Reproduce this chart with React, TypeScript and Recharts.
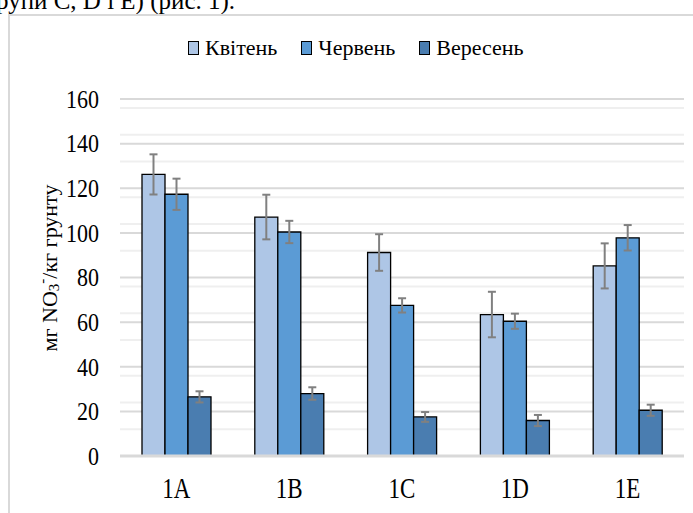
import { BarChart, Bar, XAxis, YAxis, CartesianGrid, Legend, ErrorBar } from 'recharts'

const categories = ['1A', '1B', '1C', '1D', '1E']
const aprilValues = [126.2, 107.1, 91.2, 63.4, 85.2]
const aprilErrors = [9, 10, 8.2, 10.2, 10.1]
const juneValues = [117.3, 100.4, 67.5, 60.4, 97.8]
const juneErrors = [7, 5, 3.2, 3.4, 5.7]
const septValues = [26.5, 28, 17.5, 15.9, 20.5]
const septErrors = [2.5, 2.8, 2.2, 2.5, 2.5]

const yTicks = [0, 20, 40, 60, 80, 100, 120, 140, 160]
// light minor lines every 4 units between the major ones
const minorTicks = Array.from({ length: 41 }, (_, i) => i * 4).filter((v) => v % 20 !== 0)

const series = [
  { key: 'apr', err: 'aprErr', name: 'Квітень', color: '#aec6e6' },
  { key: 'jun', err: 'junErr', name: 'Червень', color: '#5b9bd5' },
  { key: 'sep', err: 'sepErr', name: 'Вересень', color: '#4a7db0' },
]

const data = categories.map((name, i) => ({
  name,
  apr: aprilValues[i],
  aprErr: aprilErrors[i],
  jun: juneValues[i],
  junErr: juneErrors[i],
  sep: septValues[i],
  sepErr: septErrors[i],
}))

const serif = 'Liberation Serif, serif'
const textStyle = { fontFamily: serif }

const YTick = ({ x, y, payload }: any) => (
  <text
    transform={`translate(${x} ${y}) scale(1 1.15)`}
    textAnchor="end"
    dy="0.35em"
    fontFamily={serif}
    style={textStyle}
    fontSize={22}
    fill="#000"
  >
    {payload.value}
  </text>
)

const XTick = ({ x, y, payload }: any) => (
  <text
    transform={`translate(${x} ${y + 42}) scale(1 1.25)`}
    textAnchor="middle"
    fontFamily={serif}
    style={textStyle}
    fontSize={23}
    fill="#000"
  >
    {payload.value}
  </text>
)

const YTitle = () => {
  const cx = 49
  const cy = 268
  return (
    <text
      x={cx}
      y={cy}
      transform={`rotate(-90 ${cx} ${cy})`}
      textAnchor="middle"
      dominantBaseline="central"
      fontFamily={serif}
      style={textStyle}
      fontSize={22}
      fill="#000"
    >
      мг NO
      <tspan dy={5} fontSize={15}>3</tspan>
      <tspan dy={-12} fontSize={15}>-</tspan>
      <tspan dy={7}>/кг грунту</tspan>
    </text>
  )
}

const renderLegend = () => (
  <div style={{ display: 'flex', alignItems: 'center', height: 30, fontFamily: serif, fontSize: 22, color: '#000' }}>
    {series.map((s) => (
      <div key={s.key} style={{ display: 'flex', alignItems: 'center', marginRight: 24 }}>
        <span
          style={{
            display: 'inline-block',
            width: 9,
            height: 12,
            background: s.color,
            border: '1px solid #000',
            marginRight: 6,
          }}
        />
        <span style={{ fontFamily: serif }}>{s.name}</span>
      </div>
    ))}
  </div>
)

export default function App() {
  return (
    <div style={{ position: 'fixed', left: 0, top: 0, width: 693, height: 513, overflow: 'hidden', background: '#fff' }}>
      <div
        style={{
          position: 'absolute',
          left: -4,
          top: -13,
          fontFamily: serif,
          fontSize: 25,
          lineHeight: '28px',
          whiteSpace: 'nowrap',
        }}
      >
        рупи C, D і E) (рис. 1).
      </div>
      <div
        style={{
          position: 'absolute',
          left: 8,
          top: 14,
          width: 800,
          height: 600,
          border: '2px solid #d9d9d9',
        }}
      />
      <div style={{ position: 'absolute', left: 0, top: 0, fontFamily: serif }}>
        <BarChart
          width={693}
          height={513}
          data={data}
          margin={{ top: 33, right: 9, left: 0, bottom: 7 }}
          barGap={0}
          barSize={23}
          style={{ fontFamily: serif }}
        >
          <CartesianGrid vertical={false} horizontalValues={minorTicks} stroke="#efefef" strokeWidth={2} />
          <CartesianGrid vertical={false} horizontalValues={yTicks} stroke="#d9d9d9" strokeWidth={2} />
          <Legend
            verticalAlign="top"
            align="left"
            content={renderLegend}
            wrapperStyle={{ left: 188, top: 33, width: 400, height: 66 }}
          />
          <XAxis
            dataKey="name"
            height={50}
            tickSize={0}
            tickMargin={0}
            tick={<XTick />}
            axisLine={{ stroke: '#d9d9d9', strokeWidth: 3 }}
            tickLine={false}
          />
          <YAxis
            width={120}
            domain={[0, 160]}
            ticks={yTicks}
            tickSize={0}
            tickMargin={21}
            tick={<YTick />}
            axisLine={false}
            tickLine={false}
            label={<YTitle />}
          />
          {series.map((s) => (
            <Bar
              key={s.key}
              dataKey={s.key}
              name={s.name}
              fill={s.color}
              stroke="#000"
              strokeWidth={1.3}
              isAnimationActive={false}
            >
              <ErrorBar dataKey={s.err} width={4} stroke="#808080" strokeWidth={2} />
            </Bar>
          ))}
        </BarChart>
      </div>
    </div>
  )
}
